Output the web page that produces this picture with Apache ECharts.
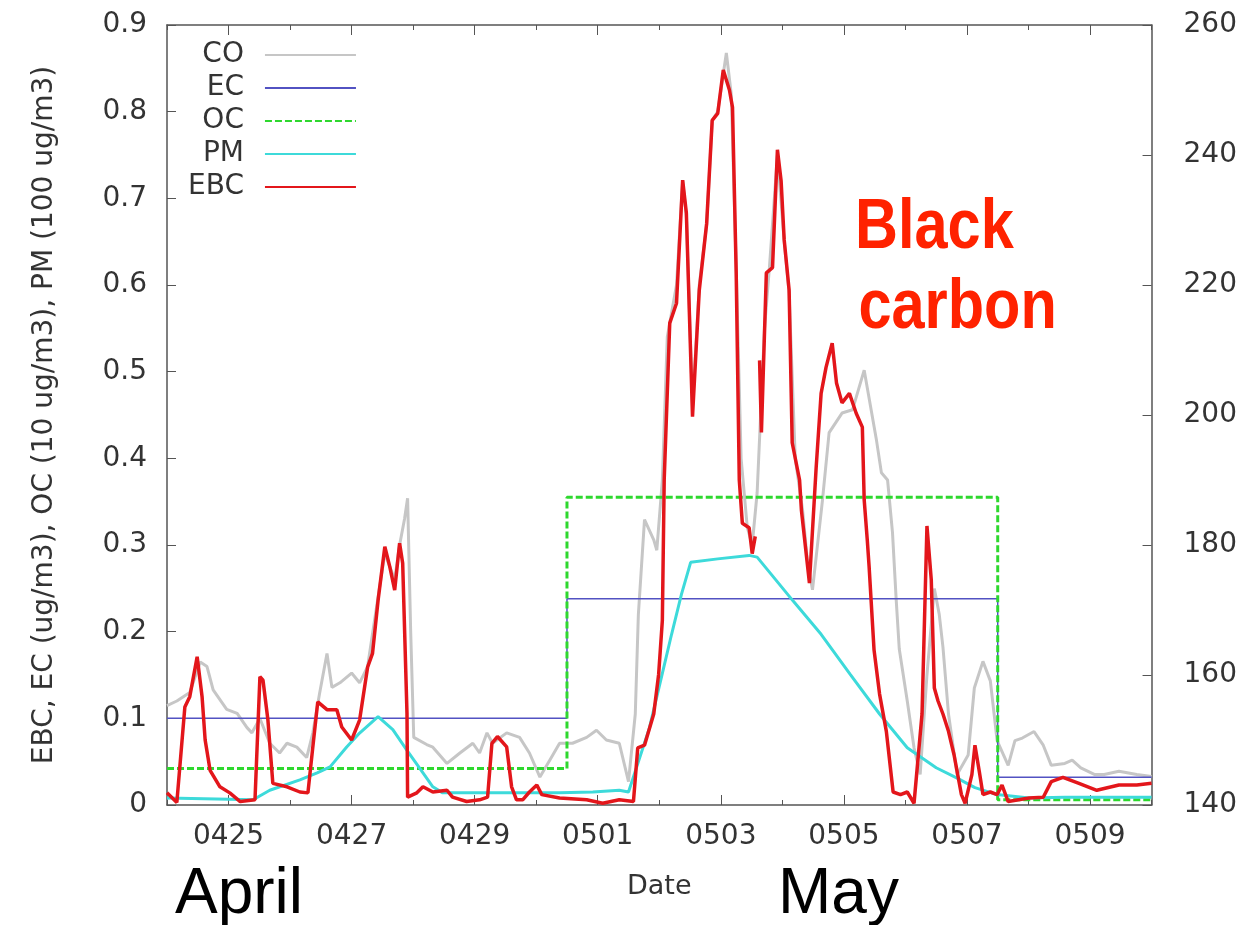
<!DOCTYPE html>
<html>
<head>
<meta charset="utf-8">
<title>EBC, EC, OC, PM and CO</title>
<script src="https://cdn.jsdelivr.net/npm/echarts@6/dist/echarts.min.js"></script>
<style>
  html, body { margin: 0; padding: 0; background: #fff; }
  #chart { width: 1240px; height: 925px; }
</style>
</head>
<body>
<div id="chart"></div>
<script>
// x values are days since 0424 00:00
const dayLabels = ['0424', '0425', '0426', '0427', '0428', '0429', '0430', '0501', '0502',
  '0503', '0504', '0505', '0506', '0507', '0508', '0509', '0510'];
const labeledDays = [1, 3, 5, 7, 9, 11, 13, 15];

// weekly filter samples (step lines)
const ecSteps = [[0, 0.100], [6.5, 0.238], [13.5, 0.032], [16, 0.032]];
const ocSteps = [[0, 0.042], [6.5, 0.355], [13.5, 0.006], [16, 0.006]];

// PM, 100 ug/m3
const pmSeries = [
  [0.00, 0.008], [1.40, 0.006], [1.67, 0.017], [2.16, 0.029], [2.44, 0.037], [2.65, 0.044],
  [2.92, 0.067], [3.13, 0.083], [3.43, 0.102], [3.67, 0.087], [3.90, 0.063], [4.16, 0.037],
  [4.32, 0.021], [4.48, 0.014], [5.84, 0.014], [6.38, 0.014], [6.92, 0.015], [7.35, 0.017],
  [7.50, 0.015], [7.61, 0.039], [7.84, 0.089], [8.02, 0.143], [8.20, 0.197], [8.36, 0.243],
  [8.51, 0.280], [8.95, 0.284], [9.46, 0.288], [9.59, 0.286], [10.18, 0.235], [10.63, 0.197],
  [11.10, 0.151], [11.58, 0.105], [12.03, 0.066], [12.50, 0.043], [12.84, 0.031], [13.13, 0.020],
  [13.49, 0.012], [14.01, 0.008], [14.59, 0.009], [16.00, 0.009]
];

// CO, right axis
const coSeries = [
  [0.00, 155.3], [0.16, 156.0], [0.37, 157.3], [0.54, 162.0], [0.65, 161.3], [0.75, 157.7],
  [0.97, 154.7], [1.14, 154.1], [1.30, 151.9], [1.38, 151.1], [1.51, 153.3], [1.67, 149.5],
  [1.83, 148.0], [1.95, 149.5], [2.11, 148.9], [2.27, 147.3], [2.37, 151.1], [2.48, 157.2],
  [2.60, 163.3], [2.68, 158.1], [2.81, 158.8], [3.00, 160.3], [3.13, 158.8], [3.26, 161.3],
  [3.43, 172.0], [3.54, 178.7], [3.70, 174.7], [3.78, 180.0], [3.86, 184.0], [3.91, 187.2],
  [3.96, 166.7], [4.01, 150.4], [4.22, 149.3], [4.32, 148.9], [4.55, 146.4], [4.76, 148.0],
  [4.97, 149.5], [5.08, 148.0], [5.20, 151.1], [5.29, 149.5], [5.52, 151.1], [5.73, 150.4],
  [5.89, 148.0], [6.06, 144.3], [6.22, 146.9], [6.38, 149.5], [6.59, 149.5], [6.82, 150.4],
  [6.98, 151.5], [7.14, 150.0], [7.35, 149.5], [7.50, 143.6], [7.61, 154.0], [7.66, 169.3],
  [7.76, 183.9], [7.91, 180.8], [7.96, 179.2], [8.05, 190.0], [8.13, 212.0], [8.28, 220.0],
  [8.38, 236.0], [8.44, 230.7], [8.54, 201.3], [8.65, 220.0], [8.77, 229.3], [8.86, 245.3],
  [8.95, 246.7], [9.09, 255.7], [9.17, 249.3], [9.25, 222.7], [9.33, 193.3], [9.43, 182.7],
  [9.51, 180.0], [9.59, 188.0], [9.71, 213.3], [9.79, 222.7], [9.92, 240.0], [10.03, 226.7],
  [10.11, 218.7], [10.21, 193.3], [10.33, 185.3], [10.41, 177.3], [10.49, 173.1], [10.65, 186.7],
  [10.76, 197.3], [10.97, 200.3], [11.14, 200.8], [11.33, 206.9], [11.53, 196.1], [11.61, 191.1],
  [11.71, 190.0], [11.79, 181.9], [11.85, 171.6], [11.90, 164.0], [12.03, 156.0], [12.14, 148.8],
  [12.24, 144.7], [12.35, 160.0], [12.47, 173.3], [12.55, 169.3], [12.61, 164.3], [12.70, 154.0],
  [12.84, 144.7], [13.02, 147.7], [13.12, 158.0], [13.26, 162.1], [13.38, 159.1], [13.49, 149.9],
  [13.67, 146.1], [13.78, 149.9], [13.90, 150.3], [14.09, 151.3], [14.24, 149.2], [14.37, 146.1],
  [14.59, 146.4], [14.71, 146.9], [14.85, 145.7], [15.07, 144.7], [15.23, 144.7], [15.47, 145.2],
  [15.76, 144.7], [16.00, 144.4]
];

// EBC, ug/m3 (null = missing data)
const ebcSeries = [
  [0.00, 0.014], [0.16, 0.003], [0.29, 0.113], [0.37, 0.125], [0.49, 0.171], [0.57, 0.125],
  [0.62, 0.075], [0.70, 0.040], [0.86, 0.021], [1.02, 0.014], [1.19, 0.004], [1.43, 0.006],
  [1.51, 0.148], [1.56, 0.144], [1.64, 0.098], [1.72, 0.025], [1.95, 0.021], [2.16, 0.015],
  [2.29, 0.014], [2.37, 0.067], [2.45, 0.119], [2.60, 0.110], [2.76, 0.110], [2.84, 0.090],
  [3.00, 0.075], [3.13, 0.098], [3.26, 0.159], [3.34, 0.175], [3.43, 0.236], [3.54, 0.298],
  [3.62, 0.275], [3.70, 0.248], [3.78, 0.302], [3.83, 0.279], [3.90, 0.106], [3.91, 0.009],
  [4.06, 0.014], [4.16, 0.021], [4.32, 0.015], [4.55, 0.017], [4.64, 0.009], [4.87, 0.004],
  [5.08, 0.006], [5.21, 0.009], [5.28, 0.071], [5.37, 0.079], [5.52, 0.067], [5.60, 0.021],
  [5.68, 0.006], [5.78, 0.006], [5.89, 0.015], [6.01, 0.023], [6.09, 0.012], [6.38, 0.008],
  [6.82, 0.006], [7.08, 0.002], [7.35, 0.006], [7.58, 0.004], [7.65, 0.066], [7.76, 0.069],
  [7.91, 0.105], [7.99, 0.151], [8.05, 0.213], [8.08, 0.375], [8.17, 0.556], [8.28, 0.579],
  [8.38, 0.721], [8.44, 0.683], [8.54, 0.448], [8.65, 0.594], [8.77, 0.671], [8.86, 0.790],
  [8.95, 0.798], [9.04, 0.848], [9.14, 0.825], [9.19, 0.805], [9.25, 0.614], [9.30, 0.375],
  [9.35, 0.325], [9.46, 0.320], [9.51, 0.290], [9.56, 0.310], [9.59, null], [9.63, 0.513],
  [9.66, 0.430], [9.74, 0.614], [9.84, 0.620], [9.92, 0.756], [9.98, 0.720], [10.03, 0.652],
  [10.11, 0.594], [10.16, 0.418], [10.28, 0.375], [10.31, 0.340], [10.44, 0.256], [10.55, 0.390],
  [10.63, 0.475], [10.71, 0.505], [10.81, 0.533], [10.88, 0.487], [10.97, 0.464], [11.09, 0.475],
  [11.20, 0.452], [11.30, 0.436], [11.33, 0.352], [11.38, 0.306], [11.41, 0.275], [11.49, 0.179],
  [11.58, 0.128], [11.69, 0.085], [11.80, 0.015], [11.92, 0.012], [12.03, 0.015], [12.14, 0.002],
  [12.27, 0.105], [12.35, 0.322], [12.42, 0.260], [12.47, 0.135], [12.53, 0.120], [12.61, 0.105],
  [12.70, 0.085], [12.79, 0.058], [12.91, 0.012], [12.97, 0.002], [13.08, 0.035], [13.13, 0.069],
  [13.20, 0.039], [13.26, 0.012], [13.38, 0.015], [13.49, 0.012], [13.57, 0.023], [13.67, 0.004],
  [14.01, 0.008], [14.24, 0.009], [14.37, 0.027], [14.56, 0.032], [14.82, 0.025], [15.11, 0.017],
  [15.47, 0.023], [15.76, 0.023], [16.00, 0.025]
];

const axisFont = 'DejaVu Sans';
const textColor = '#333';
const frameColor = '#555';

const chart = echarts.init(document.getElementById('chart'));

const dayAxis = {
  type: 'value',
  min: 0,
  max: 16,
  interval: 2,
  axisLine: { show: true, onZero: false, lineStyle: { color: frameColor, width: 1.5 } },
  axisTick: { show: true, inside: true, length: 5, lineStyle: { color: frameColor } },
  minorTick: { show: true, splitNumber: 2, length: 10, lineStyle: { color: frameColor } },
  splitLine: { show: false },
  minorSplitLine: { show: false },
};

const option = {
  animation: false,
  backgroundColor: '#fff',
  grid: { left: 167, right: 87, top: 25, bottom: 120 },
  legend: {
    data: ['CO', 'EC', 'OC', 'PM', 'EBC'],
    orient: 'vertical',
    align: 'right',
    left: 188,
    top: 40,
    padding: 0,
    itemWidth: 91,
    itemHeight: 14,
    itemGap: 3,
    itemStyle: { opacity: 0 },
    textStyle: { fontFamily: axisFont, fontSize: 28, color: textColor, lineHeight: 30, padding: [0, 16, 0, 0] },
  },
  xAxis: [
    {
      ...dayAxis,
      position: 'bottom',
      name: 'Date',
      nameLocation: 'middle',
      nameGap: 68,
      nameTextStyle: { fontFamily: axisFont, fontSize: 27, color: textColor },
      axisLabel: {
        customValues: labeledDays,
        formatter: (v) => dayLabels[Math.round(v)],
        fontFamily: axisFont,
        fontSize: 28,
        color: textColor,
        margin: 18,
      },
    },
    { ...dayAxis, position: 'top', axisLabel: { show: false } },
  ],
  yAxis: [
    {
      type: 'value',
      min: 0,
      max: 0.9,
      interval: 0.1,
      position: 'left',
      name: 'EBC, EC (ug/m3), OC (10 ug/m3), PM (100 ug/m3)',
      nameLocation: 'middle',
      nameGap: 108,
      nameTextStyle: { fontFamily: axisFont, fontSize: 28, color: textColor },
      axisLine: { show: true, onZero: false, lineStyle: { color: frameColor, width: 1.5 } },
      axisTick: { show: true, inside: true, length: 9, lineStyle: { color: frameColor } },
      axisLabel: { fontFamily: axisFont, fontSize: 28, color: textColor, margin: 20 },
      splitLine: { show: false },
    },
    {
      type: 'value',
      min: 140,
      max: 260,
      interval: 20,
      position: 'right',
      axisLine: { show: true, onZero: false, lineStyle: { color: frameColor, width: 1.5 } },
      axisTick: { show: true, inside: true, length: 9, lineStyle: { color: frameColor } },
      axisLabel: { fontFamily: axisFont, fontSize: 28, color: textColor, margin: 32 },
      splitLine: { show: false },
    },
  ],
  series: [
    {
      name: 'CO', type: 'line', yAxisIndex: 1, data: coSeries, symbol: 'none',
      color: '#c6c6c6', lineStyle: { width: 3 },
    },
    {
      name: 'EC', type: 'line', step: 'end', data: ecSteps, symbol: 'none',
      color: '#5252c2', lineStyle: { width: 1.5 },
    },
    {
      name: 'OC', type: 'line', step: 'end', data: ocSteps, symbol: 'none',
      color: '#2ed82e', lineStyle: { width: 3, type: [7, 3] },
    },
    {
      name: 'PM', type: 'line', data: pmSeries, symbol: 'none',
      color: '#3ddada', lineStyle: { width: 3 },
    },
    {
      name: 'EBC', type: 'line', data: ebcSeries, symbol: 'none', connectNulls: false,
      color: '#e3161b', lineStyle: { width: 3.5 },
    },
  ],
  graphic: [
    {
      type: 'text', x: 175, y: 895,
      style: { text: 'April', font: '64px "Liberation Sans", Arial, sans-serif', fill: '#000',
        textVerticalAlign: 'middle', verticalAlign: 'middle' },
    },
    {
      type: 'text', x: 778, y: 895,
      style: { text: 'May', font: '64px "Liberation Sans", Arial, sans-serif', fill: '#000',
        textVerticalAlign: 'middle', verticalAlign: 'middle' },
    },
    {
      type: 'group', x: 855, y: 0, scaleX: 0.85,
      children: [
        {
          type: 'text', x: 0, y: 229,
          style: { text: 'Black', font: 'bold 70px "Liberation Sans", Arial, sans-serif', fill: '#ff2200',
            textVerticalAlign: 'middle', verticalAlign: 'middle' },
        },
        {
          type: 'text', x: 4, y: 309,
          style: { text: 'carbon', font: 'bold 70px "Liberation Sans", Arial, sans-serif', fill: '#ff2200',
            textVerticalAlign: 'middle', verticalAlign: 'middle' },
        },
      ],
    },
  ],
};

chart.setOption(option);
window.addEventListener('resize', () => chart.resize());
</script>
</body>
</html>
